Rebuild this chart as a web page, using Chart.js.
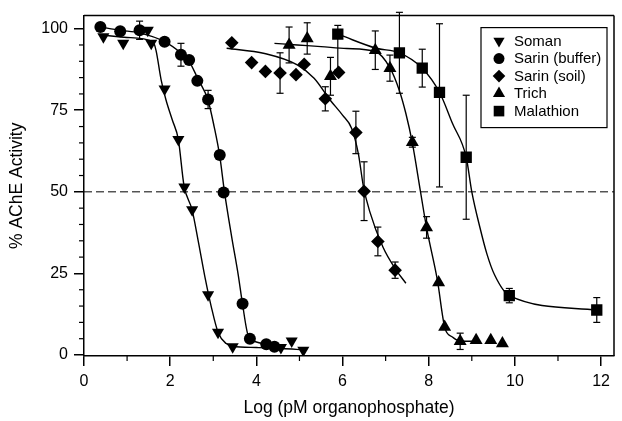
<!DOCTYPE html>
<html>
<head>
<meta charset="utf-8">
<script src="https://cdn.jsdelivr.net/npm/chart.js@4.4.1/dist/chart.umd.min.js"></script>
<style>
  html, body { margin: 0; padding: 0; background: #fff; }
  #wrap { width: 622px; height: 421px; }
</style>
</head>
<body>
<div id="wrap"><canvas id="chart" width="622" height="421"></canvas></div>
<script>
// valores (AChE vs log organofosforado)
const xTicks = [0, 2, 4, 6, 8, 10, 12];
const xMinor = [1, 3, 5, 7, 9, 11];
const yTicks = [0, 25, 50, 75, 100];
const yMinor = [5, 10, 15, 20, 30, 35, 40, 45, 55, 60, 65, 70, 80, 85, 90, 95];
const refLevel = 50;

const somanX = [0.45, 0.91, 1.48, 1.56, 1.87, 2.19, 2.33, 2.51, 2.88, 3.11, 3.45, 4.57, 4.82, 5.09];
const somanY = [97.5, 95.5, 99.5, 95.5, 81.5, 66, 51.5, 44.5, 18.5, 7, 2.5, 2.3, 4.3, 1.5];
const somanErr = [0, 0, 0, 0, 0, 0, 0, 0, 0, 0, 0, 0, 0, 0];
const somanFitX = [0.45, 1.0, 1.6, 1.67, 1.79, 1.9, 2.05, 2.19, 2.32, 2.51, 2.65, 2.82, 2.95, 3.11, 3.3, 3.45, 4.0, 4.6, 5.09];
const somanFitY = [98, 97.3, 96, 93.4, 84.3, 78.3, 72, 66, 52, 44.4, 35, 23, 15, 7, 3.5, 2.7, 2.3, 2.0, 1.6];

const sarinBufX = [0.38, 0.84, 1.29, 1.87, 2.25, 2.44, 2.63, 2.88, 3.15, 3.24, 3.68, 3.85, 4.23, 4.42];
const sarinBufY = [100.5, 99.2, 99.5, 96, 92, 90.4, 84, 78.3, 61.3, 49.8, 15.7, 5, 3.3, 2.5];
const sarinBufErr = [0, 0, 2.8, 0, 3.5, 0, 0, 2.8, 0, 0, 0, 0, 0, 0];
const sarinBufFitX = [0.38, 0.84, 1.29, 1.87, 2.25, 2.44, 2.63, 2.88, 3.02, 3.15, 3.26, 3.43, 3.58, 3.68, 3.81, 4.0, 4.5];
const sarinBufFitY = [100.5, 99.5, 98.7, 96, 92.5, 90, 85, 78, 70, 61, 50, 36, 24.5, 15.5, 6, 4, 3];

const sarinSoilX = [3.43, 3.89, 4.21, 4.55, 4.92, 5.11, 5.6, 5.91, 6.31, 6.5, 6.82, 7.22];
const sarinSoilY = [95.7, 89.6, 86.9, 86.4, 85.9, 89.1, 78.5, 86.6, 68.2, 50.2, 34.8, 26];
const sarinSoilErr = [0, 0, 0, 6.2, 0, 0, 3.7, 0, 6.5, 9, 4.4, 2.5];
const sarinSoilFitX = [3.31, 4.19, 4.95, 5.34, 5.72, 6.0, 6.21, 6.37, 6.48, 6.63, 6.94, 7.22, 7.47];
const sarinSoilFitY = [94, 92.4, 88.9, 84.8, 78, 73.5, 69.5, 61.5, 52, 44, 33, 26.5, 22];

const trichX = [4.76, 5.18, 5.72, 6.76, 7.1, 7.62, 7.95, 8.23, 8.37, 8.73, 9.1, 9.44, 9.71];
const trichY = [95, 97, 85.4, 93.4, 87.9, 65.2, 39.1, 22.2, 8.6, 4.2, 4.5, 4.5, 3.5];
const trichErr = [5.5, 4.8, 5.8, 5.9, 4, 1.5, 3.3, 0, 0, 2.5, 0, 0, 0];
const trichFitX = [4.42, 4.95, 5.5, 6.1, 6.76, 7.1, 7.32, 7.47, 7.62, 7.81, 7.95, 8.2, 8.37, 8.55, 8.73, 9.08];
const trichFitY = [95.5, 95, 94.5, 93.9, 93, 88, 81, 74, 65, 50, 39, 23, 8.6, 5.5, 4.3, 4.2];

const malaX = [5.89, 7.32, 7.85, 8.25, 8.87, 9.87, 11.9];
const malaY = [98.3, 92.6, 87.9, 80.5, 60.6, 18.2, 13.8];
// [abaixo, acima] quando assimetrico
const malaErr = [[11, 2.7], 12.4, 5.8, [29, 21], 19, 2.2, 3.8];
const malaFitX = [5.95, 6.78, 7.32, 7.85, 8.25, 8.55, 8.87, 9.0, 9.19, 9.35, 9.53, 9.87, 11.9];
const malaFitY = [98, 94, 92.6, 87.9, 80.5, 71, 60.6, 50, 39, 31, 24.5, 18.2, 13.8];

const FONT = "'Liberation Sans', Arial, Helvetica, sans-serif";

function zip(xs, ys) {
  return xs.map((x, i) => ({ x, y: ys[i] }));
}

function pointSet(label, xs, ys, err, style, radius, rotation) {
  return {
    label, data: zip(xs, ys), err, inLegend: true,
    showLine: false, pointStyle: style, pointRadius: radius, pointRotation: rotation || 0,
    backgroundColor: "#000", borderColor: "#000", borderWidth: 0, order: 1,
  };
}

function fitSet(xs, ys) {
  return {
    data: zip(xs, ys), showLine: true, pointRadius: 0, borderColor: "#000", borderWidth: 1.4,
    cubicInterpolationMode: "monotone", fill: false, order: 2,
  };
}

function drawMarker(ctx, style, x, y, r, rot) {
  ctx.beginPath();
  if (style === "circle") {
    ctx.arc(x, y, r, 0, Math.PI * 2);
  } else if (style === "rect") {
    const s = r * Math.SQRT1_2;
    ctx.rect(x - s, y - s, 2 * s, 2 * s);
  } else if (style === "rectRot") {
    ctx.moveTo(x - r, y); ctx.lineTo(x, y - r); ctx.lineTo(x + r, y); ctx.lineTo(x, y + r); ctx.closePath();
  } else {
    const d = rot ? -1 : 1;
    ctx.moveTo(x, y - d * r);
    ctx.lineTo(x + 0.866 * r, y + d * 0.5 * r);
    ctx.lineTo(x - 0.866 * r, y + d * 0.5 * r);
    ctx.closePath();
  }
  ctx.fill();
}

function line(ctx, x1, y1, x2, y2) {
  ctx.beginPath(); ctx.moveTo(x1, y1); ctx.lineTo(x2, y2); ctx.stroke();
}

const framePlugin = {
  id: "frame",
  beforeDatasetsDraw(chart) {
    const { ctx, chartArea: a, scales: { x, y } } = chart;
    ctx.save();
    ctx.strokeStyle = "#000";
    ctx.lineWidth = 1.5;
    line(ctx, a.left, a.top, a.right, a.top);
    line(ctx, a.right, a.top, a.right, a.bottom);
    ctx.lineWidth = 1.2;
    xMinor.forEach((v) => { const px = x.getPixelForValue(v); line(ctx, px, a.bottom, px, a.bottom + 5); });
    yMinor.forEach((v) => { const py = y.getPixelForValue(v); line(ctx, a.left - 5, py, a.left, py); });
    // linha tracejada 50%
    ctx.lineWidth = 1;
    ctx.setLineDash([8, 4]);
    const ry = y.getPixelForValue(refLevel);
    line(ctx, a.left, ry, a.right, ry);
    ctx.restore();
  },
  afterDatasetsDraw(chart) {
    const { ctx, scales: { x, y } } = chart;
    ctx.save();
    ctx.strokeStyle = "#000";
    ctx.lineWidth = 1.2;
    chart.data.datasets.forEach((ds) => {
      if (!ds.err) return;
      ds.data.forEach((p, i) => {
        const e = ds.err[i];
        if (!e) return;
        const lo = Array.isArray(e) ? e[0] : e;
        const hi = Array.isArray(e) ? e[1] : e;
        const px = x.getPixelForValue(p.x);
        const y1 = y.getPixelForValue(p.y + hi);
        const y2 = y.getPixelForValue(p.y - lo);
        line(ctx, px, y1, px, y2);
        line(ctx, px - 3.5, y1, px + 3.5, y1);
        line(ctx, px - 3.5, y2, px + 3.5, y2);
      });
    });
    ctx.restore();
  },
  afterDraw(chart) {
    const { ctx, chartArea: a } = chart;
    const items = chart.data.datasets.filter((d) => d.inLegend);
    const bx = a.right - 133, by = a.top + 12, bw = 126, bh = 100;
    ctx.save();
    ctx.fillStyle = "#fff";
    ctx.fillRect(bx, by, bw, bh);
    ctx.strokeStyle = "#000";
    ctx.lineWidth = 1.2;
    ctx.strokeRect(bx, by, bw, bh);
    ctx.fillStyle = "#000";
    ctx.font = "15px " + FONT;
    ctx.textBaseline = "middle";
    items.forEach((d, i) => {
      const cy = by + 13.5 + i * 17.5;
      drawMarker(ctx, d.pointStyle, bx + 18, cy, d.pointRadius - 0.5, d.pointRotation);
      ctx.fillText(d.label, bx + 33, cy + 0.5);
    });
    ctx.restore();
  },
};

new Chart(document.getElementById("chart"), {
  type: "scatter",
  data: {
    datasets: [
      pointSet("Soman", somanX, somanY, somanErr, "triangle", 7, 180),
      pointSet("Sarin (buffer)", sarinBufX, sarinBufY, sarinBufErr, "circle", 6),
      pointSet("Sarin (soil)", sarinSoilX, sarinSoilY, sarinSoilErr, "rectRot", 6.8),
      pointSet("Trich", trichX, trichY, trichErr, "triangle", 7.5),
      pointSet("Malathion", malaX, malaY, malaErr, "rect", 8),
      fitSet(somanFitX, somanFitY),
      fitSet(sarinBufFitX, sarinBufFitY),
      fitSet(sarinSoilFitX, sarinSoilFitY),
      fitSet(trichFitX, trichFitY),
      fitSet(malaFitX, malaFitY),
    ],
  },
  options: {
    responsive: false,
    animation: false,
    devicePixelRatio: 1,
    layout: { padding: { top: 12, right: 2, left: 0, bottom: 0 } },
    plugins: { legend: { display: false }, tooltip: { enabled: false } },
    scales: {
      x: {
        type: "linear", min: 0, max: 12.3,
        afterBuildTicks: (s) => { s.ticks = xTicks.map((v) => ({ value: v })); },
        afterFit: (s) => { s.height = 65; },
        grid: { drawOnChartArea: false, drawTicks: true, tickLength: 10, color: "#000", lineWidth: 1.5 },
        border: { color: "#000", width: 1.5 },
        ticks: { color: "#000", font: { family: FONT, size: 16 }, padding: 6, maxRotation: 0 },
        title: { display: true, text: "Log (pM organophosphate)", color: "#000", font: { family: FONT, size: 17.5 }, padding: { top: 0, bottom: 2 } },
      },
      y: {
        type: "linear", min: -0.3, max: 104,
        afterBuildTicks: (s) => { s.ticks = yTicks.map((v) => ({ value: v })); },
        afterFit: (s) => { s.width = 84; },
        grid: { drawOnChartArea: false, drawTicks: true, tickLength: 10, color: "#000", lineWidth: 1.5 },
        border: { color: "#000", width: 1.5 },
        ticks: { color: "#000", font: { family: FONT, size: 16 }, padding: 6 },
        title: { display: true, text: "% AChE Activity", color: "#000", font: { family: FONT, size: 17.5 }, padding: { top: 7, bottom: 0 } },
      },
    },
  },
  plugins: [framePlugin],
});
</script>
</body>
</html>
